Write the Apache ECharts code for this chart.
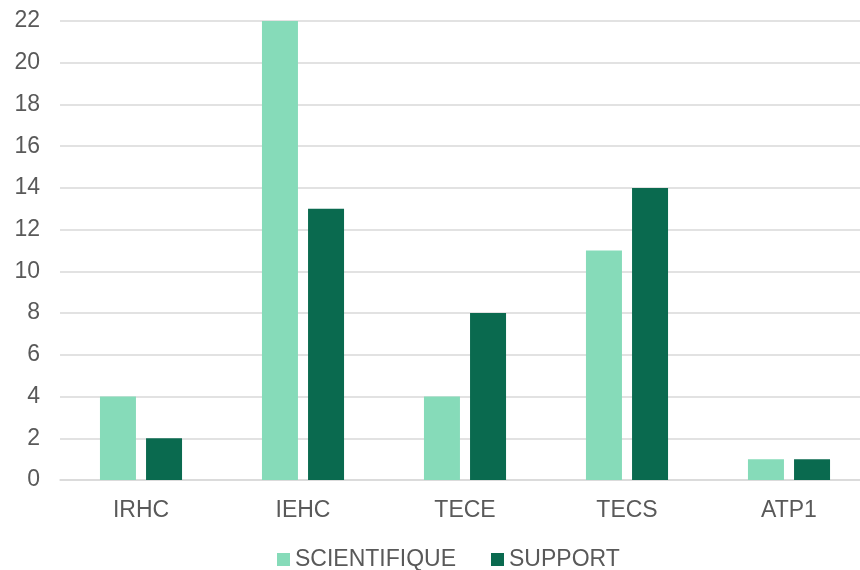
<!DOCTYPE html>
<html><head><meta charset="utf-8">
<script src="https://cdn.jsdelivr.net/npm/echarts@6/dist/echarts.min.js"></script>
<style>html,body{margin:0;padding:0;background:#fff}#c{width:860px;height:570px}</style>
</head><body><div id="c"></div>
<script>
const categories = ['IRHC', 'IEHC', 'TECE', 'TECS', 'ATP1'];
const scientifique = [4, 22, 4, 11, 1];
const support = [2, 13, 8, 14, 1];
const seriesNames = ['SCIENTIFIQUE', 'SUPPORT'];

const chart = echarts.init(document.getElementById('c'));
const font = 'Liberation Sans, Arial, sans-serif';
chart.setOption({
  animation: false,
  backgroundColor: '#fff',
  grid: { left: 60, width: 810, top: 21, height: 459, outerBoundsMode: 'none', containLabel: false },
  legend: {
    data: seriesNames,
    top: 543,
    left: 272,
    itemWidth: 13, itemHeight: 13, itemGap: 35,
    icon: 'rect',
    textStyle: { color: '#595959', fontSize: 23, fontFamily: font, padding: [0,0,0,0] }
  },
  xAxis: {
    type: 'category', data: categories,
    axisLine: { lineStyle: { color: '#d9d9d9', width: 1.5 } },
    axisTick: { show: false },
    axisLabel: { color: '#595959', fontSize: 23, fontFamily: font, margin: 19 }
  },
  yAxis: {
    type: 'value', min: 0, max: 22, interval: 2,
    axisLine: { show: false }, axisTick: { show: false },
    splitLine: { lineStyle: { color: '#d9d9d9', width: 1.5 } },
    axisLabel: { color: '#595959', fontSize: 23, fontFamily: font, margin: 20 }
  },
  series: [
    { name: seriesNames[0], type: 'bar', data: scientifique, barWidth: 36, barGap: '28%',
      itemStyle: { color: '#86dbb9' } },
    { name: seriesNames[1], type: 'bar', data: support, barWidth: 36, barGap: '28%',
      itemStyle: { color: '#0a6a4f' } }
  ]
});
</script></body></html>
